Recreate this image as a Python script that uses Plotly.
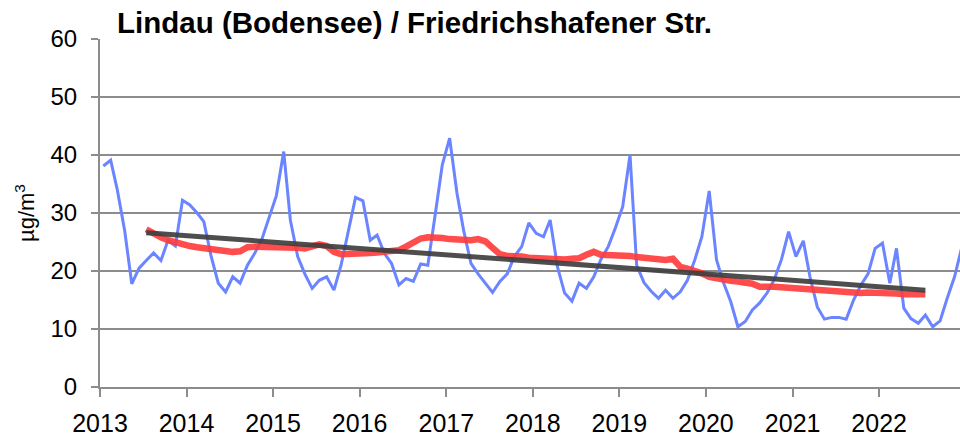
import plotly.graph_objects as go
import pandas as pd

# Monthly NO2 means, Jan 2013 .. Dec 2022 (µg/m³)
years = list(range(2013, 2023))
monthly_values = [
    38.1, 39.1, 34.0, 27.0, 17.8, 20.5, 21.8, 23.1, 21.8, 25.3, 24.3, 32.2,   # 2013
    31.4, 30.0, 28.5, 22.5, 17.9, 16.4, 19.0, 17.9, 21.0, 23.0, 25.5, 29.0,   # 2014
    33.0, 40.6, 28.8, 22.5, 19.5, 17.0, 18.4, 19.0, 16.7, 21.0, 27.0, 32.7,   # 2015
    32.1, 25.3, 26.2, 23.0, 21.3, 17.6, 18.7, 18.2, 21.2, 21.0, 29.7, 38.3,   # 2016
    42.9, 33.4, 27.0, 21.3, 19.5, 17.8, 16.3, 18.2, 19.5, 22.5, 24.2, 28.3,   # 2017
    26.5, 25.9, 28.8, 20.7, 16.2, 14.8, 17.9, 17.0, 19.0, 22.0, 24.2, 27.4,   # 2018
    31.1, 40.0, 21.0, 18.0, 16.5, 15.3, 16.7, 15.3, 16.4, 18.4, 21.9, 25.9,   # 2019
    33.8, 21.9, 18.0, 14.7, 10.4, 11.3, 13.3, 14.5, 16.2, 18.5, 22.0, 26.8,   # 2020
    22.5, 25.2, 19.0, 13.8, 11.7, 12.0, 12.0, 11.7, 15.0, 17.5, 19.5, 23.9,   # 2021
    24.8, 17.9, 23.9, 13.6, 11.8, 11.0, 12.4, 10.4, 11.4, 15.3, 19.0, 24.0,   # 2022
]

# 12-month running mean, Jul 2013 .. Jul 2022
running_mean = [
    27.2, 26.4, 25.8, 25.3, 24.9, 24.6,                                       # 2013 Jul-Dec
    24.3, 24.1, 23.9, 23.8, 23.6, 23.4, 23.3, 23.4, 24.1, 24.2, 24.2, 24.2,   # 2014
    24.2, 24.1, 24.0, 24.0, 23.9, 24.2, 24.6, 24.3, 23.3, 22.9, 22.9, 23.0,   # 2015
    23.0, 23.1, 23.2, 23.3, 23.5, 23.6, 24.2, 25.0, 25.6, 25.8, 25.8, 25.7,   # 2016
    25.5, 25.4, 25.3, 25.3, 25.5, 25.1, 24.0, 22.9, 22.6, 22.6, 22.5, 22.3,   # 2017
    22.2, 22.2, 22.2, 22.1, 22.0, 22.1, 22.2, 22.8, 23.3, 22.8, 22.8, 22.8,   # 2018
    22.7, 22.6, 22.4, 22.3, 22.1, 22.0, 21.9, 22.1, 20.7, 20.4, 20.1, 19.6,   # 2019
    19.0, 18.7, 18.5, 18.3, 18.2, 18.0, 17.8, 17.3, 17.4, 17.3, 17.2, 17.1,   # 2020
    17.0, 17.0, 16.9, 16.7, 16.6, 16.5, 16.4, 16.3, 16.2, 16.2, 16.3, 16.3,   # 2021
    16.3, 16.2, 16.1, 16.0, 16.0, 16.0, 16.0,                                 # 2022 Jan-Jul
]

# Linear trend end points (Jul 2013, Jul 2022)
trend_dates = ["2013-07-15", "2022-07-15"]
trend_values = [26.6, 16.7]

tick_labels = [str(y) for y in years]

month_dates = pd.date_range("2013-01-01", periods=len(monthly_values), freq="MS") + pd.Timedelta(days=14)
mean_dates = pd.date_range("2013-07-01", periods=len(running_mean), freq="MS") + pd.Timedelta(days=14)

fig = go.Figure()
fig.add_trace(go.Scatter(x=month_dates, y=monthly_values, mode="lines",
                         line=dict(color="#6b84ff", width=3), showlegend=False))
fig.add_trace(go.Scatter(x=mean_dates, y=running_mean, mode="lines",
                         line=dict(color="#ff3a3a", width=6.5), opacity=0.9, showlegend=False))
fig.add_trace(go.Scatter(x=trend_dates, y=trend_values, mode="lines",
                         line=dict(color="#3f3f3f", width=5), opacity=0.92, showlegend=False))

grid = "#8c8c8c"
font_family = "Liberation Sans, Arial, sans-serif"

fig.update_layout(
    width=960, height=436,
    margin=dict(l=100, r=0, t=39, b=49, autoexpand=False),
    paper_bgcolor="white", plot_bgcolor="white",
    font=dict(family=font_family, color="black"),
    title=dict(text="<b>Lindau (Bodensee) / Friedrichshafener Str.</b>",
               x=117 / 960, xanchor="left", xref="container",
               y=1 - 22.5 / 436, yanchor="middle", yref="container",
               font=dict(size=29.5, family=font_family, color="black")),
    annotations=[dict(text="µg/m<sup>3</sup>", textangle=-90,
                      xref="paper", x=-75 / 860, xanchor="center",
                      yref="paper", y=0.5, yanchor="middle",
                      showarrow=False, font=dict(size=22, color="black"))],
)
fig.update_xaxes(
    type="date", range=["2013-01-01", "2022-12-08"],
    tickvals=[f"{y}-01-01" for y in years], ticktext=tick_labels,
    showgrid=False, showline=True, linecolor=grid, linewidth=2,
    ticks="outside", ticklen=8, tickwidth=2, tickcolor=grid,
    tickfont=dict(size=25), ticklabelstandoff=5, zeroline=False,
)
fig.update_yaxes(
    range=[0, 60], dtick=10, showgrid=True, gridcolor=grid, gridwidth=2,
    showline=True, linecolor=grid, linewidth=2,
    ticks="outside", ticklen=7, tickwidth=2, tickcolor=grid,
    tickfont=dict(size=24), ticklabelstandoff=9, zeroline=False,
)

fig.write_html("out.html", config={"displayModeBar": False})

# remove the browser's default 8px page margin so the figure sits at (0, 0)
with open("out.html", encoding="utf-8") as f:
    page = f.read()
page = page.replace("<head>", "<head><style>html,body{margin:0;padding:0;}</style>", 1)
with open("out.html", "w", encoding="utf-8") as f:
    f.write(page)
